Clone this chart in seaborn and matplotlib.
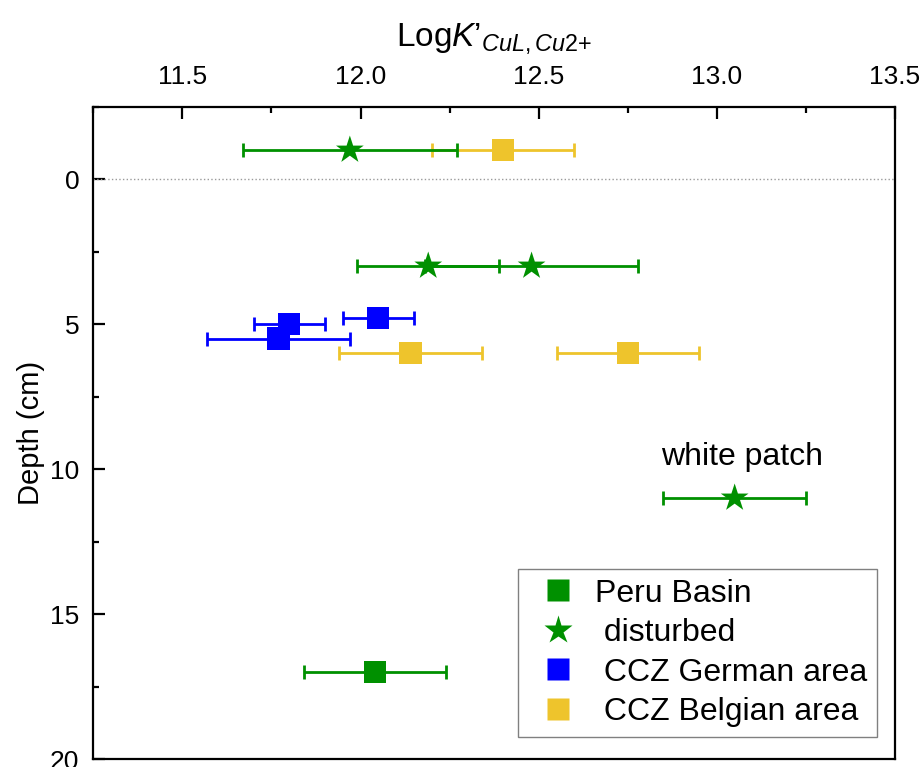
import matplotlib
matplotlib.use("Agg")
import matplotlib.pyplot as plt
from matplotlib.lines import Line2D
from matplotlib.ticker import MultipleLocator
import seaborn as sns
import pandas as pd

# ---- data ----
groups = ["Peru Basin", "disturbed", "disturbed", "disturbed", "disturbed",
          "CCZ German area", "CCZ German area", "CCZ German area",
          "CCZ Belgian area", "CCZ Belgian area", "CCZ Belgian area"]
logk = [12.04, 11.97, 12.19, 12.48, 13.05,
        11.80, 12.05, 11.77,
        12.40, 12.14, 12.75]
depth = [17.0, -1.0, 3.0, 3.0, 11.0,
         5.0, 4.8, 5.5,
         -1.0, 6.0, 6.0]
err = [0.2, 0.3, 0.2, 0.3, 0.2,
       0.1, 0.1, 0.2,
       0.2, 0.2, 0.2]
legend_labels = ["Peru Basin", " disturbed", " CCZ German area", " CCZ Belgian area"]
order = ["CCZ Belgian area", "CCZ German area", "Peru Basin", "disturbed"]

colors = {"Peru Basin": "#009000", "disturbed": "#009000",
          "CCZ German area": "#0000FF", "CCZ Belgian area": "#EEC42C"}
markers = {"Peru Basin": "s", "disturbed": "*",
           "CCZ German area": "s", "CCZ Belgian area": "s"}

df = pd.DataFrame({"group": groups, "logk": logk, "depth": depth, "err": err})

sns.set_theme(style="white")
plt.rcParams["font.family"] = ["Liberation Sans", "DejaVu Sans"]
plt.rcParams["mathtext.fontset"] = "custom"
plt.rcParams["mathtext.rm"] = "Liberation Sans"
plt.rcParams["mathtext.it"] = "Liberation Sans:italic"
for k in ["text.color", "axes.labelcolor", "xtick.color", "ytick.color"]:
    plt.rcParams[k] = "black"

fig = plt.figure(figsize=(9.24, 7.67), dpi=100)
ax = fig.add_axes([0.101, 0.0104, 0.9686 - 0.101, 0.861 - 0.0104])

ax.axhline(0, color="#9a9a9a", ls=":", lw=1.0, zorder=1)

z = 2
for g in order:
    sub = df[df["group"] == g]
    ax.errorbar(sub["logk"], sub["depth"], xerr=sub["err"], fmt="none",
                ecolor=colors[g], elinewidth=2.0, capsize=5, capthick=2.0, zorder=z)
    sns.scatterplot(data=sub, x="logk", y="depth", ax=ax, color=colors[g],
                    marker=markers[g], s=(441 if markers[g] == "*" else 256),
                    edgecolor="none", linewidth=0, legend=False, zorder=z + 1)
    z += 2

ax.set_xlim(11.25, 13.5)
ax.set_ylim(20, -2.5)

ax.xaxis.set_label_position("top")
ax.xaxis.tick_top()
ax.xaxis.set_major_locator(MultipleLocator(0.5))
ax.xaxis.set_minor_locator(MultipleLocator(0.25))
ax.yaxis.set_major_locator(MultipleLocator(5))
ax.yaxis.set_minor_locator(MultipleLocator(2.5))
ax.set_xticks([11.5, 12.0, 12.5, 13.0, 13.5])
ax.set_xticklabels(["11.5", "12.0", "12.5", "13.0", "13.5"])

ax.tick_params(axis="x", which="both", direction="in", top=True, bottom=False,
               labeltop=True, labelbottom=False, labelsize=19, pad=13, width=1.6, color="black")
ax.tick_params(axis="y", which="both", direction="in", left=True, right=False,
               labelsize=19, pad=10, width=1.6, color="black")
ax.tick_params(which="major", length=8.5)
ax.tick_params(which="minor", length=4.5)

for sp in ax.spines.values():
    sp.set_visible(True)
    sp.set_color("black")
    sp.set_linewidth(1.6)

ax.set_xlabel(r"Log$K’_{CuL,Cu2{+}}$", fontsize=24, labelpad=14)
ax.set_ylabel("Depth (cm)", fontsize=21, labelpad=4)

ax.text(13.07, 9.6, "white patch", fontsize=23, ha="center", va="center")

handles = [Line2D([], [], ls="none", marker="s", ms=16, mec="none", color=colors["Peru Basin"]),
           Line2D([], [], ls="none", marker="*", ms=21, mec="none", color=colors["disturbed"]),
           Line2D([], [], ls="none", marker="s", ms=16, mec="none", color=colors["CCZ German area"]),
           Line2D([], [], ls="none", marker="s", ms=16, mec="none", color=colors["CCZ Belgian area"])]
leg = ax.legend(handles, legend_labels, loc="lower right", fontsize=23, frameon=True,
                fancybox=False, edgecolor="#808080", framealpha=1, borderpad=0.3,
                labelspacing=0.30, handletextpad=0.2, handlelength=1.9,
                borderaxespad=0, bbox_to_anchor=(0.9775, 0.034))
leg.get_frame().set_linewidth(1.0)

fig.savefig("out.png", dpi=100)
